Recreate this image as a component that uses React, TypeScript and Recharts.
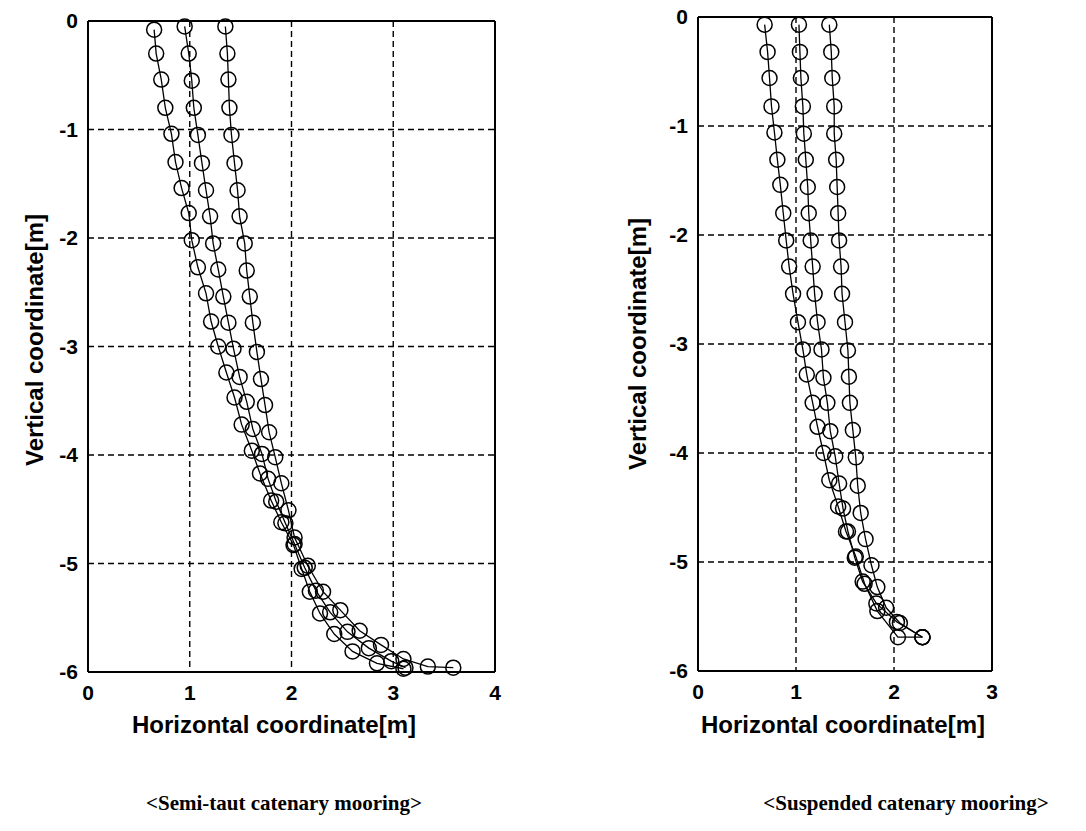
import React from 'react';
import { ScatterChart, Scatter, XAxis, YAxis, CartesianGrid, ReferenceLine } from 'recharts';

// vertical axis ticks shared by both panels
const depthTicks = [0, -1, -2, -3, -4, -5, -6];
const semiTautXTicks = [0, 1, 2, 3, 4];
const suspendedXTicks = [0, 1, 2, 3];

// semi-taut catenary mooring, three snapshots
const semiX1 = [0.65, 0.67, 0.72, 0.76, 0.82, 0.86, 0.92, 0.99, 1.02, 1.08, 1.16, 1.21, 1.28, 1.36, 1.44, 1.51, 1.61, 1.69, 1.80, 1.90, 2.02, 2.10, 2.18, 2.28, 2.42, 2.60, 2.84, 3.10];
const semiY1 = [-0.08, -0.30, -0.54, -0.80, -1.04, -1.30, -1.54, -1.77, -2.02, -2.27, -2.51, -2.77, -3.00, -3.24, -3.47, -3.72, -3.96, -4.17, -4.42, -4.62, -4.83, -5.05, -5.26, -5.46, -5.65, -5.81, -5.92, -5.97];
const semiX2 = [0.95, 0.99, 1.02, 1.04, 1.08, 1.12, 1.16, 1.20, 1.23, 1.28, 1.33, 1.38, 1.43, 1.49, 1.56, 1.62, 1.71, 1.77, 1.85, 1.94, 2.03, 2.13, 2.24, 2.38, 2.55, 2.76, 2.98, 3.12];
const semiY2 = [-0.05, -0.30, -0.55, -0.80, -1.05, -1.31, -1.56, -1.80, -2.05, -2.29, -2.54, -2.78, -3.02, -3.28, -3.51, -3.76, -3.99, -4.22, -4.43, -4.63, -4.82, -5.04, -5.25, -5.45, -5.63, -5.78, -5.90, -5.96];
const semiX3 = [1.35, 1.37, 1.38, 1.39, 1.41, 1.44, 1.47, 1.49, 1.54, 1.56, 1.59, 1.62, 1.66, 1.70, 1.74, 1.78, 1.84, 1.90, 1.97, 2.03, 2.16, 2.31, 2.48, 2.67, 2.88, 3.10, 3.34, 3.59];
const semiY3 = [-0.05, -0.30, -0.54, -0.80, -1.05, -1.31, -1.56, -1.80, -2.05, -2.30, -2.54, -2.78, -3.05, -3.30, -3.54, -3.79, -4.02, -4.26, -4.51, -4.76, -5.02, -5.26, -5.43, -5.62, -5.75, -5.88, -5.95, -5.96];

// suspended catenary mooring
const suspX1 = [0.68, 0.71, 0.73, 0.75, 0.78, 0.81, 0.84, 0.87, 0.90, 0.93, 0.97, 1.02, 1.07, 1.11, 1.17, 1.22, 1.28, 1.34, 1.43, 1.51, 1.61, 1.70, 1.83, 2.04, 2.29];
const suspY1 = [-0.07, -0.32, -0.56, -0.82, -1.06, -1.31, -1.54, -1.80, -2.05, -2.29, -2.54, -2.80, -3.05, -3.28, -3.54, -3.76, -4.00, -4.25, -4.49, -4.72, -4.95, -5.20, -5.45, -5.69, -5.69];
const suspX2 = [1.03, 1.04, 1.05, 1.07, 1.08, 1.10, 1.12, 1.13, 1.15, 1.17, 1.19, 1.22, 1.26, 1.28, 1.32, 1.35, 1.40, 1.44, 1.48, 1.53, 1.60, 1.68, 1.82, 2.03, 2.29];
const suspY2 = [-0.07, -0.32, -0.56, -0.82, -1.07, -1.31, -1.56, -1.80, -2.05, -2.29, -2.54, -2.80, -3.05, -3.31, -3.54, -3.80, -4.03, -4.28, -4.51, -4.72, -4.96, -5.18, -5.38, -5.55, -5.69];
const suspX3 = [1.34, 1.36, 1.37, 1.39, 1.39, 1.41, 1.42, 1.43, 1.44, 1.46, 1.47, 1.50, 1.53, 1.54, 1.55, 1.58, 1.61, 1.63, 1.66, 1.71, 1.77, 1.83, 1.92, 2.06, 2.29];
const suspY3 = [-0.07, -0.32, -0.56, -0.82, -1.07, -1.31, -1.56, -1.80, -2.05, -2.29, -2.54, -2.80, -3.06, -3.30, -3.54, -3.79, -4.04, -4.30, -4.55, -4.79, -5.03, -5.23, -5.42, -5.56, -5.69];

const toPoints = (xs: number[], ys: number[]) => xs.map((x, i) => ({ x, y: ys[i] }));

const tickStyle = { fontFamily: '"Liberation Sans", Arial, sans-serif', fontWeight: 'bold' as const, fontSize: 21, fill: '#000' };
const titleStyle: React.CSSProperties = {
  position: 'absolute', fontFamily: '"Liberation Sans", Arial, sans-serif', fontWeight: 'bold',
  fontSize: 24, color: '#000', whiteSpace: 'nowrap', lineHeight: 1,
};
const captionStyle: React.CSSProperties = {
  position: 'absolute', fontFamily: '"Liberation Serif", "Times New Roman", serif', fontWeight: 'bold',
  fontSize: 21, color: '#000', whiteSpace: 'nowrap', lineHeight: 1, transform: 'translate(-50%, -50%)',
};

const Ring = (p: any) => <circle cx={p.cx} cy={p.cy} r={7.5} fill="none" stroke="#000" strokeWidth={1.5} />;

interface PanelProps {
  left: number; width: number; margin: { top: number; right: number; bottom: number; left: number };
  xMax: number; xTicks: number[]; series: { x: number; y: number }[][];
}

const Panel: React.FC<PanelProps> = ({ left, width, margin, xMax, xTicks, series }) => (
  <div style={{ position: 'absolute', left, top: 0 }}>
    <ScatterChart width={width} height={760} margin={margin}>
      <CartesianGrid stroke="#000" strokeDasharray="6 4" strokeWidth={1.4} />
      <XAxis type="number" dataKey="x" domain={[0, xMax]} ticks={xTicks} tick={tickStyle} tickLine={false}
        tickMargin={7} height={70} axisLine={{ stroke: '#000', strokeWidth: 2 }} />
      <YAxis type="number" dataKey="y" domain={[-6, 0]} ticks={depthTicks} tick={tickStyle} tickLine={false}
        tickMargin={4} width={88} axisLine={{ stroke: '#000', strokeWidth: 2 }} />
      <ReferenceLine y={0} stroke="#000" strokeWidth={2} />
      <ReferenceLine x={xMax} stroke="#000" strokeWidth={2} />
      {series.map((pts, i) => (
        <Scatter key={i} data={pts} line={{ stroke: '#000', strokeWidth: 1.3 }} shape={Ring} isAnimationActive={false} />
      ))}
    </ScatterChart>
  </div>
);

export default function App() {
  return (
    <div style={{ position: 'absolute', left: 0, top: 0, width: 1086, height: 831, background: '#fff' }}>
      <Panel left={0} width={520} margin={{ top: 21, right: 25, bottom: 18, left: 0 }} xMax={4} xTicks={semiTautXTicks}
        series={[toPoints(semiX1, semiY1), toPoints(semiX2, semiY2), toPoints(semiX3, semiY3)]} />
      <Panel left={610} width={400} margin={{ top: 17, right: 18, bottom: 19, left: 0 }} xMax={3} xTicks={suspendedXTicks}
        series={[toPoints(suspX1, suspY1), toPoints(suspX2, suspY2), toPoints(suspX3, suspY3)]} />

      <div style={{ ...titleStyle, left: 35, top: 340, transform: 'translate(-50%, -50%) rotate(-90deg)' }}>Vertical coordinate[m]</div>
      <div style={{ ...titleStyle, left: 638, top: 344, transform: 'translate(-50%, -50%) rotate(-90deg)' }}>Vertical coordinate[m]</div>
      <div style={{ ...titleStyle, left: 274, top: 725, transform: 'translate(-50%, -50%)' }}>Horizontal coordinate[m]</div>
      <div style={{ ...titleStyle, left: 843, top: 725, transform: 'translate(-50%, -50%)' }}>Horizontal coordinate[m]</div>

      <div style={{ ...captionStyle, left: 284, top: 803 }}>&lt;Semi-taut catenary mooring&gt;</div>
      <div style={{ ...captionStyle, left: 906, top: 803 }}>&lt;Suspended catenary mooring&gt;</div>
    </div>
  );
}
